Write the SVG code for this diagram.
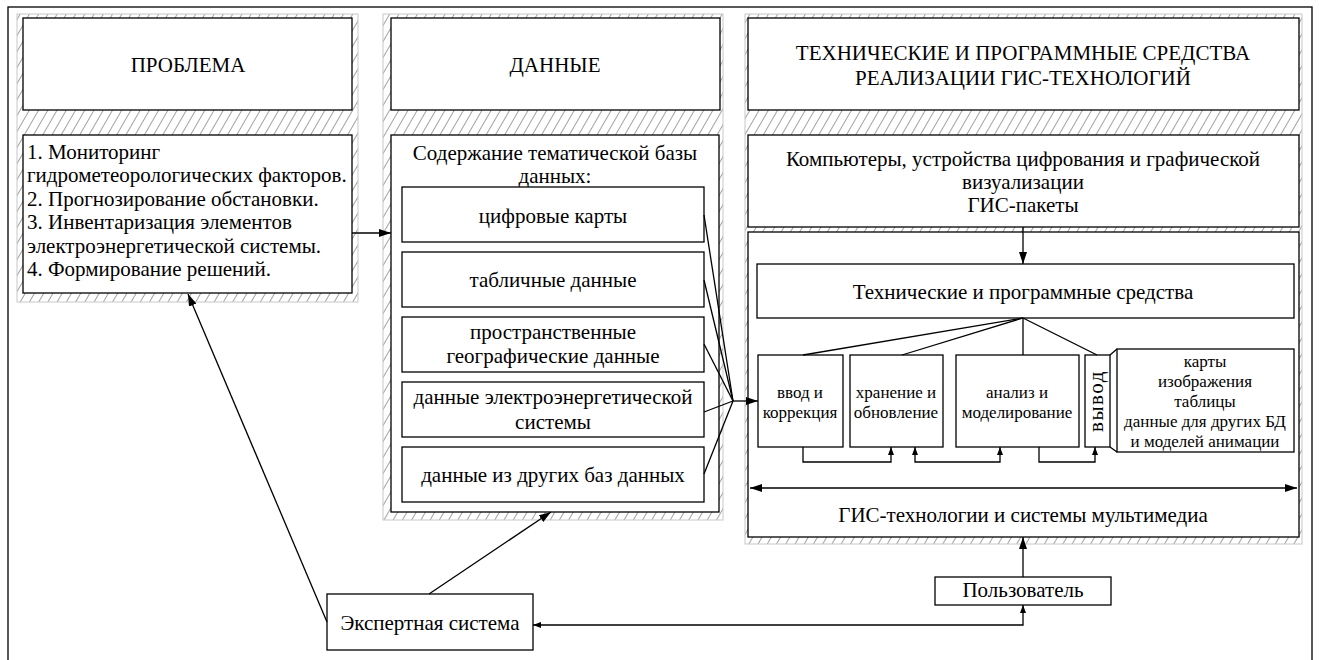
<svg xmlns="http://www.w3.org/2000/svg" width="1319" height="660" viewBox="0 0 1319 660" font-family="'Liberation Serif', Tinos, 'Times New Roman', 'DejaVu Serif', serif">
  <defs>
    <pattern id="hatch" patternUnits="userSpaceOnUse" width="8" height="8" patternTransform="rotate(30)">
      <rect width="8" height="8" fill="#ffffff"/>
      <line x1="0" y1="0" x2="0" y2="8" stroke="#555" stroke-width="1.1"/>
    </pattern>
    <marker id="arrowBig" viewBox="0 0 12 8" refX="12" refY="4" markerWidth="12" markerHeight="8" markerUnits="userSpaceOnUse" orient="auto-start-reverse">
      <path d="M0,0 L12,4 L0,8 z" fill="#000"/>
    </marker>
    <marker id="arrowSmall" viewBox="0 0 8 6" refX="8" refY="3" markerWidth="8" markerHeight="6" markerUnits="userSpaceOnUse" orient="auto-start-reverse">
      <path d="M0,0 L8,3 L0,6 z" fill="#000"/>
    </marker>
  </defs>
  <style>
    .frame { fill: none; stroke: #000; stroke-width: 1.3; }
    .panel { fill: url(#hatch); stroke: #c8c8c8; stroke-width: 1; }
    .box { fill: #fff; stroke: #000; stroke-width: 1.3; }
    .t { font-family: 'Liberation Serif', Tinos, 'Times New Roman', 'DejaVu Serif', serif; font-size: 21px; fill: #000; }
    .c { text-anchor: middle; }
    .s { font-size: 17px; }
    .conn { fill: none; stroke: #000; stroke-width: 1.3; }
    .big { marker-end: url(#arrowBig); }
    .small { marker-end: url(#arrowSmall); }
  </style>

  <rect class="frame" x="8" y="7" width="1304" height="670"/>

  <!-- Problem column -->
  <g id="problem">
    <rect class="panel" x="17" y="14" width="341" height="288"/>
    <rect class="box" x="23" y="18" width="329" height="92"/>
    <text class="t c" x="188" y="72">ПРОБЛЕМА</text>
    <rect class="box" x="23" y="135" width="329" height="158"/>
    <text class="t" x="27" y="159">1. Мониторинг</text>
    <text class="t" x="27" y="182">гидрометеорологических факторов.</text>
    <text class="t" x="27" y="206">2. Прогнозирование обстановки.</text>
    <text class="t" x="27" y="229">3. Инвентаризация элементов</text>
    <text class="t" x="27" y="253">электроэнергетической системы.</text>
    <text class="t" x="27" y="276">4. Формирование решений.</text>
  </g>

  <!-- Data column -->
  <g id="data">
    <rect class="panel" x="383" y="14" width="340" height="506"/>
    <rect class="box" x="391" y="18" width="329" height="92"/>
    <text class="t c" x="555" y="72">ДАННЫЕ</text>
    <rect class="box" x="391" y="135" width="328" height="377"/>
    <text class="t c" x="555" y="160">Содержание тематической базы</text>
    <text class="t c" x="555" y="183">данных:</text>
  </g>
  <g id="data-maps">
    <rect class="box" x="402" y="187" width="302" height="55"/>
    <text class="t c" x="553" y="223">цифровые карты</text>
  </g>
  <g id="data-tables">
    <rect class="box" x="402" y="252" width="302" height="55"/>
    <text class="t c" x="553" y="287">табличные данные</text>
  </g>
  <g id="data-spatial">
    <rect class="box" x="402" y="317" width="302" height="55"/>
    <text class="t c" x="553" y="339">пространственные</text>
    <text class="t c" x="553" y="363">географические данные</text>
  </g>
  <g id="data-power">
    <rect class="box" x="402" y="382" width="302" height="55"/>
    <text class="t c" x="553" y="404">данные электроэнергетической</text>
    <text class="t c" x="553" y="429">системы</text>
  </g>
  <g id="data-other">
    <rect class="box" x="402" y="447" width="302" height="55"/>
    <text class="t c" x="553" y="482">данные из других баз данных</text>
  </g>

  <!-- Tools column -->
  <g id="tools">
    <rect class="panel" x="745" y="14" width="557" height="530"/>
    <rect class="box" x="748" y="18" width="551" height="92"/>
    <text class="t c" x="1023" y="60">ТЕХНИЧЕСКИЕ И ПРОГРАММНЫЕ СРЕДСТВА</text>
    <text class="t c" x="1023" y="85">РЕАЛИЗАЦИИ ГИС-ТЕХНОЛОГИЙ</text>
  </g>
  <g id="hardware">
    <rect class="box" x="748" y="135" width="551" height="92"/>
    <text class="t c" x="1023" y="166" font-size="22.5">Компьютеры, устройства цифрования и графической</text>
    <text class="t c" x="1023" y="189" font-size="22.5">визуализации</text>
    <text class="t c" x="1023" y="212" font-size="22.5">ГИС-пакеты</text>
  </g>
  <g id="gis">
    <rect class="box" x="748" y="232" width="551" height="305"/>
    <text class="t c" x="1023" y="522">ГИС-технологии и системы мультимедиа</text>
  </g>
  <g id="software">
    <rect class="box" x="757" y="264" width="537" height="54"/>
    <text class="t c" x="1023" y="299">Технические и программные средства</text>
  </g>
  <g id="input">
    <rect class="box" x="758" y="355" width="85" height="92"/>
    <text class="t c s" x="800" y="398">ввод и</text>
    <text class="t c s" x="800" y="418">коррекция</text>
  </g>
  <g id="storage">
    <rect class="box" x="850" y="355" width="93" height="92"/>
    <text class="t c s" x="896" y="398">хранение и</text>
    <text class="t c s" x="896" y="418">обновление</text>
  </g>
  <g id="analysis">
    <rect class="box" x="956" y="355" width="123" height="92"/>
    <text class="t c s" x="1017" y="398">анализ и</text>
    <text class="t c s" x="1017" y="418">моделирование</text>
  </g>
  <g id="output">
    <rect class="box" x="1085" y="355" width="25" height="92"/>
    <text class="t c" x="0" y="0" font-size="16" letter-spacing="1.5" transform="translate(1103,401) rotate(-90)">вывод</text>
  </g>
  <g id="output-list">
    <rect class="box" x="1117" y="349" width="177" height="103"/>
    <text class="t c s" x="1205" y="367">карты</text>
    <text class="t c s" x="1205" y="387">изображения</text>
    <text class="t c s" x="1205" y="407">таблицы</text>
    <text class="t c s" x="1205" y="427">данные для других БД</text>
    <text class="t c s" x="1205" y="447">и моделей анимации</text>
  </g>

  <!-- Bottom nodes -->
  <g id="expert">
    <rect class="box" x="327" y="594" width="206" height="56"/>
    <text class="t c" x="430" y="630" font-size="19">Экспертная система</text>
  </g>
  <g id="user">
    <rect class="box" x="935" y="577" width="176" height="28"/>
    <text class="t c" x="1023" y="597" font-size="19.5">Пользователь</text>
  </g>

  <!-- Connectors -->
  <g id="connectors">
    <line class="conn big" x1="352" y1="233" x2="391" y2="233"/>
    <line class="conn" x1="704" y1="215" x2="733" y2="401"/>
    <line class="conn" x1="704" y1="280" x2="733" y2="401"/>
    <line class="conn" x1="704" y1="344" x2="733" y2="401"/>
    <line class="conn" x1="704" y1="412" x2="733" y2="401"/>
    <line class="conn" x1="704" y1="474" x2="733" y2="401"/>
    <line class="conn big" x1="733" y1="401" x2="758" y2="401"/>
    <line class="conn big" x1="1023" y1="227" x2="1023" y2="264"/>
    <line class="conn" x1="1023" y1="318" x2="803" y2="355"/>
    <line class="conn" x1="1023" y1="318" x2="902" y2="355"/>
    <line class="conn" x1="1023" y1="318" x2="1023" y2="355"/>
    <line class="conn" x1="1023" y1="318" x2="1097" y2="355"/>
    <line class="conn" x1="1110" y1="355" x2="1117" y2="349"/>
    <line class="conn" x1="1110" y1="447" x2="1117" y2="452"/>
    <polyline class="conn small" points="803,447 803,462 891,462 891,447"/>
    <polyline class="conn small" points="915,447 915,462 1000,462 1000,447" marker-start="url(#arrowSmall)"/>
    <polyline class="conn small" points="1039,447 1039,462 1095,462 1095,447"/>
    <line class="conn big" x1="750" y1="488" x2="1297" y2="488" marker-start="url(#arrowBig)"/>
    <line class="conn big" x1="327" y1="622" x2="188" y2="294"/>
    <line class="conn big" x1="429" y1="594" x2="551" y2="512"/>
    <line class="conn big" x1="1023" y1="577" x2="1023" y2="537"/>
    <polyline class="conn small" points="1023,605 1023,625 533,625" marker-start="url(#arrowSmall)"/>
  </g>
</svg>
